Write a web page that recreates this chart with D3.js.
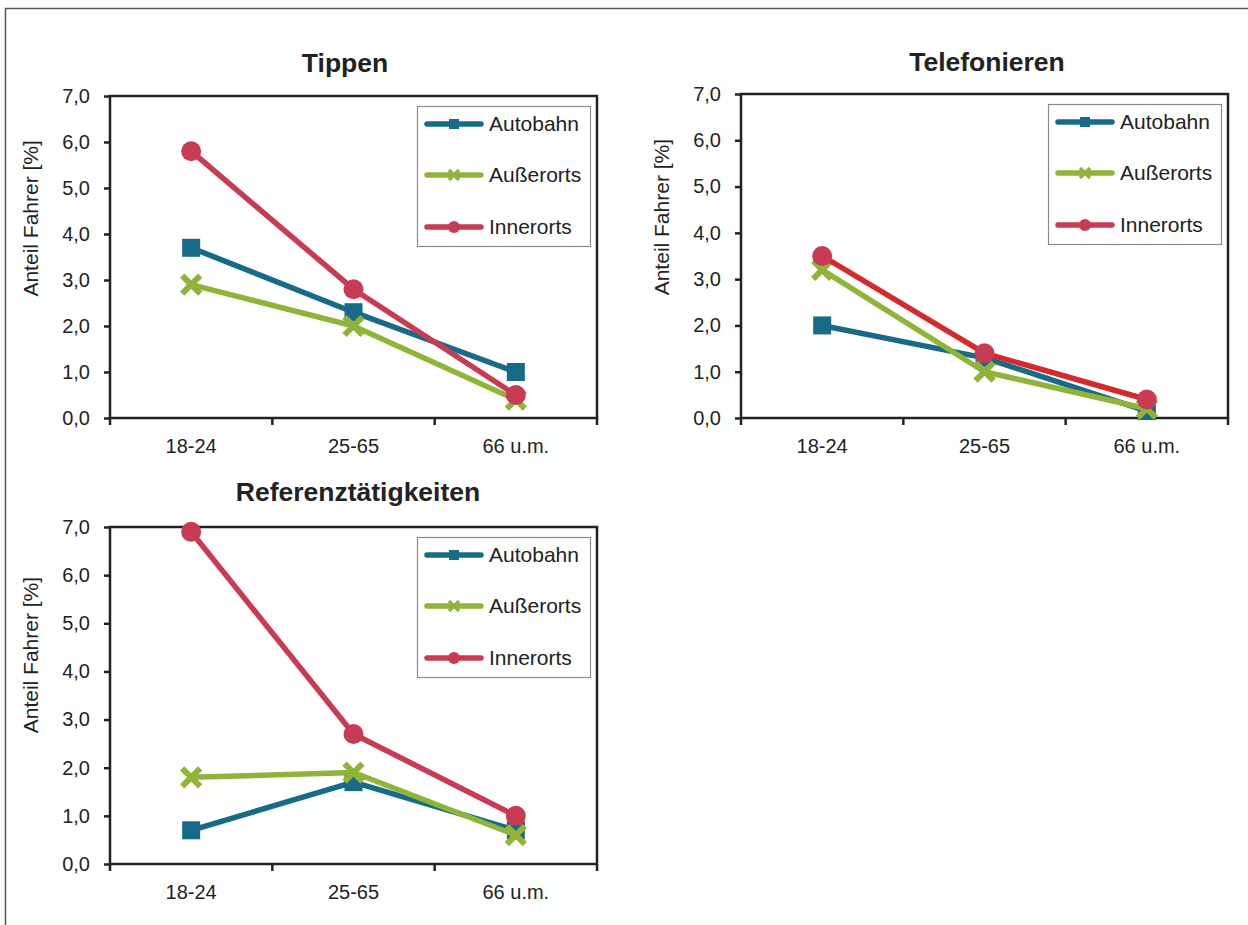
<!DOCTYPE html>
<html>
<head>
<meta charset="utf-8">
<script src="https://cdn.jsdelivr.net/npm/d3@7"></script>
<style>
  body { margin: 0; background: #fff; }
  svg { display: block; font-family: "Liberation Sans", Arial, sans-serif; }
</style>
</head>
<body>
<div id="chart"></div>
<script>
// Data
const ageGroups = ['18-24', '25-65', '66 u.m.'];
const seriesNames = ['Autobahn', 'Außerorts', 'Innerorts'];
const chartTitles = ['Tippen', 'Telefonieren', 'Referenztätigkeiten'];
const yTickValues = [0, 1, 2, 3, 4, 5, 6, 7];

const tippenAutobahn = [3.7, 2.3, 1.0];
const tippenAusserorts = [2.9, 2.0, 0.4];
const tippenInnerorts = [5.8, 2.8, 0.5];

const telefonAutobahn = [2.0, 1.3, 0.15];
const telefonAusserorts = [3.2, 1.0, 0.2];
const telefonInnerorts = [3.5, 1.4, 0.4];

const referenzAutobahn = [0.7, 1.7, 0.7];
const referenzAusserorts = [1.8, 1.9, 0.6];
const referenzInnerorts = [6.9, 2.7, 1.0];

const chartValues = [
  [tippenAutobahn, tippenAusserorts, tippenInnerorts],
  [telefonAutobahn, telefonAusserorts, telefonInnerorts],
  [referenzAutobahn, referenzAusserorts, referenzInnerorts]
];

// styling
const colors = ['#176b88', '#90b43a', '#c83b55'];
const shapes = ['square', 'cross', 'circle'];

// where each panel sits on the page
const panels = [
  { left: 110, top: 96, right: 597, bottom: 418, titleX: 345, titleY: 72 },
  { left: 741, top: 94, right: 1228, bottom: 418, titleX: 987, titleY: 71 },
  { left: 110, top: 527, right: 597, bottom: 864, titleX: 358, titleY: 501 }
];

const svg = d3.select('#chart')
  .append('svg')
  .attr('width', 1248)
  .attr('height', 925);

// outer frame (top + left only, right/bottom cut off)
svg.append('path')
  .attr('d', 'M5.5,925 L5.5,8.5 L1248,8.5')
  .attr('fill', 'none')
  .attr('stroke', '#555')
  .attr('stroke-width', 1.5);

function drawMarker(g, shape, color, cx, cy, size) {
  if (shape === 'square') {
    g.append('rect')
      .attr('x', cx - size / 2).attr('y', cy - size / 2)
      .attr('width', size).attr('height', size)
      .attr('fill', color);
  } else if (shape === 'circle') {
    g.append('circle')
      .attr('cx', cx).attr('cy', cy).attr('r', size / 2 + 1)
      .attr('fill', color);
  } else {
    const h = size / 2;
    g.append('path')
      .attr('d', `M${cx - h},${cy - h}L${cx + h},${cy + h}M${cx - h},${cy + h}L${cx + h},${cy - h}`)
      .attr('stroke', color)
      .attr('stroke-width', size / 3)
      .attr('fill', 'none');
  }
}

panels.forEach((p, ci) => {
  const g = svg.append('g');

  const x = d3.scaleBand()
    .domain(ageGroups)
    .range([p.left, p.right])
    .padding(0);

  const y = d3.scaleLinear()
    .domain([0, 7])
    .range([p.bottom, p.top]);

  // title
  g.append('text')
    .attr('x', p.titleX)
    .attr('y', p.titleY)
    .attr('text-anchor', 'middle')
    .attr('font-size', 26.5)
    .attr('font-weight', 'bold')
    .attr('fill', '#222')
    .text(chartTitles[ci]);

  // y axis
  const yAxis = g.append('g')
    .attr('transform', `translate(${p.left},0)`)
    .call(d3.axisLeft(y)
      .tickValues(yTickValues)
      .tickSize(6)
      .tickSizeOuter(0)
      .tickPadding(14)
      .tickFormat(d => d3.format('.1f')(d).replace('.', ',')));
  yAxis.select('.domain').remove();
  yAxis.selectAll('line').attr('stroke', '#222').attr('stroke-width', 2.5);
  yAxis.selectAll('text')
    .attr('font-size', 20)
    .attr('fill', '#222')
    .style('font-family', '"Liberation Sans", Arial, sans-serif');

  // x ticks at band edges, labels at band centres
  const edges = ageGroups.map(d => x(d)).concat([x(ageGroups[ageGroups.length - 1]) + x.bandwidth()]);
  g.selectAll('.xtick')
    .data(edges)
    .enter()
    .append('line')
    .attr('x1', d => d).attr('x2', d => d)
    .attr('y1', p.bottom).attr('y2', p.bottom + 7)
    .attr('stroke', '#222')
    .attr('stroke-width', 2.5);

  g.selectAll('.xlabel')
    .data(ageGroups)
    .enter()
    .append('text')
    .attr('x', d => x(d) + x.bandwidth() / 2)
    .attr('y', p.bottom + 35)
    .attr('text-anchor', 'middle')
    .attr('font-size', 20)
    .attr('fill', '#222')
    .text(d => d);

  // plot frame
  g.append('rect')
    .attr('x', p.left).attr('y', p.top)
    .attr('width', p.right - p.left)
    .attr('height', p.bottom - p.top)
    .attr('fill', 'none')
    .attr('stroke', '#222')
    .attr('stroke-width', 2.5);

  // y axis title
  const labelY = p.top + 0.38 * (p.bottom - p.top);
  g.append('text')
    .attr('transform', `translate(${p.left - 72},${labelY}) rotate(-90)`)
    .attr('text-anchor', 'middle')
    .attr('font-size', 21)
    .attr('fill', '#222')
    .text('Anteil Fahrer [%]');

  // series
  chartValues[ci].forEach((vals, si) => {
    let lineColor = colors[si];
    if (ci === 1 && si === 2) lineColor = '#d42a2c';
    const line = d3.line()
      .x((d, i) => x(ageGroups[i]) + x.bandwidth() / 2)
      .y(d => y(d));
    g.append('path')
      .datum(vals)
      .attr('d', line)
      .attr('fill', 'none')
      .attr('stroke', lineColor)
      .attr('stroke-width', 5.5)
      .attr('stroke-linejoin', 'round');
    vals.forEach((v, i) => {
      drawMarker(g, shapes[si], colors[si], x(ageGroups[i]) + x.bandwidth() / 2, y(v), 18);
    });
  });

  // legend
  const lw = 173, lh = 140;
  const lx = p.right - 7 - lw;
  const ly = p.top + 10;
  const leg = g.append('g').attr('transform', `translate(${lx},${ly})`);
  leg.append('rect')
    .attr('x', 0.5).attr('y', 0.5)
    .attr('width', lw).attr('height', lh)
    .attr('fill', '#fff')
    .attr('stroke', '#8a8a8a')
    .attr('stroke-width', 1.2);
  const rowY = [18, 69, 121];
  seriesNames.forEach((name, si) => {
    leg.append('line')
      .attr('x1', 10).attr('x2', 64)
      .attr('y1', rowY[si]).attr('y2', rowY[si])
      .attr('stroke', colors[si])
      .attr('stroke-width', 5.5)
      .attr('stroke-linecap', 'round');
    drawMarker(leg, shapes[si], colors[si], 37, rowY[si], 10);
    leg.append('text')
      .attr('x', 72)
      .attr('y', rowY[si] + 7)
      .attr('font-size', 21)
      .attr('fill', '#222')
      .text(name);
  });
});
</script>
</body>
</html>
